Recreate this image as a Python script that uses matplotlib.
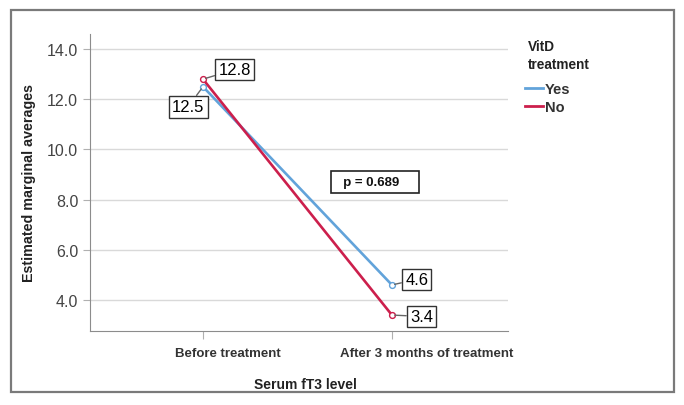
import matplotlib.pyplot as plt
from matplotlib.patches import Rectangle
from matplotlib.lines import Line2D
from matplotlib.transforms import ScaledTranslation

plt.rcParams['font.family'] = ['Liberation Sans', 'DejaVu Sans']

# Дані з графіка
categories = ['Before treatment', 'After 3 months of treatment']
yes_vals = [12.5, 4.6]
no_vals = [12.8, 3.4]
y_ticks = [4.0, 6.0, 8.0, 10.0, 12.0, 14.0]
p_text = 'p = 0.689'

blue = '#62a3da'
red = '#cc1f4c'

fig = plt.figure(figsize=(6.84, 4.06), dpi=100)
# рамка навколо всього рисунка
fig.patches.append(Rectangle((0.016, 0.032), 0.969, 0.941, transform=fig.transFigure,
                             fill=False, edgecolor='#7a7a7a', linewidth=1.6))

ax = fig.add_axes([0.1316, 0.1823, 0.611, 0.7315])
x = list(range(len(categories)))
ax.plot(x, yes_vals, color=blue, linewidth=1.9, marker='o', markersize=4.2,
        markerfacecolor='white', markeredgecolor=blue, zorder=3)
ax.plot(x, no_vals, color=red, linewidth=1.9, marker='o', markersize=4.2,
        markerfacecolor='white', markeredgecolor=red, zorder=4)

ax.set_xlim(-0.598, 1.614)
ax.set_ylim(2.765, 14.6)
ax.set_yticks(y_ticks)
ax.set_yticklabels([f'{v:.1f}' for v in y_ticks], fontsize=11.5, color='#444444')
ax.set_xticks(x)
ax.set_xticklabels(categories, fontsize=9.5, fontweight='bold', color='#333333')
ax.tick_params(axis='y', length=5, color='#b0b0b0', pad=3.5)
ax.tick_params(axis='x', length=5.8, color='#b0b0b0', pad=6)
# підписи категорій зсунуті праворуч, як на оригіналі
for lbl, dx in zip(ax.get_xticklabels(), [25, 35]):
    lbl.set_transform(lbl.get_transform() + ScaledTranslation(dx / 100, 0, fig.dpi_scale_trans))
ax.grid(axis='y', color='#d9d9d9', linewidth=1)
ax.set_axisbelow(True)
for s in ['top', 'right']:
    ax.spines[s].set_visible(False)
for s in ['left', 'bottom']:
    ax.spines[s].set_color('#8c8c8c')

ax.set_ylabel('Estimated marginal averages', fontsize=10.3, fontweight='bold',
              color='#222222', labelpad=8)
ax.set_xlabel('Serum fT3 level', fontsize=10, fontweight='bold', color='#222222')
ax.xaxis.set_label_coords(0.515, -0.155)

bbox = dict(boxstyle='square,pad=0.2', facecolor='white', edgecolor='#333333', linewidth=1)
arrow = dict(arrowstyle='-', color='#666666', linewidth=1, shrinkA=0, shrinkB=2)
ax.annotate(f'{no_vals[0]}', (x[0], no_vals[0]), xytext=(11, 1.5), textcoords='offset points',
            fontsize=12, bbox=bbox, arrowprops=arrow, va='bottom', ha='left', zorder=5)
ax.annotate(f'{yes_vals[0]}', (x[0], yes_vals[0]), xytext=(1, -9), textcoords='offset points',
            fontsize=12, bbox=bbox, arrowprops=arrow, va='top', ha='right', zorder=5)
ax.annotate(f'{yes_vals[1]}', (x[1], yes_vals[1]), xytext=(9.5, 4), textcoords='offset points',
            fontsize=12, bbox=bbox, arrowprops=arrow, va='center', ha='left', zorder=5)
ax.annotate(f'{no_vals[1]}', (x[1], no_vals[1]), xytext=(13, -1), textcoords='offset points',
            fontsize=12, bbox=bbox, arrowprops=arrow, va='center', ha='left', zorder=5)

ax.text(0.705, 8.7, '  ' + p_text + '    ', fontsize=9.5, fontweight='bold', va='center', ha='left',
        color='#111111',
        bbox=dict(boxstyle='square,pad=0.4', facecolor='white', edgecolor='#222222', linewidth=1.2))

fig.text(0.772, 0.862, 'VitD\ntreatment', fontsize=9.8, fontweight='bold', va='center', ha='left',
         color='#222222', linespacing=1.35)
handles = [Line2D([], [], color=blue, linewidth=2), Line2D([], [], color=red, linewidth=2)]
leg = ax.legend(handles, ['Yes', 'No'], loc='upper left', bbox_to_anchor=(1.04, 0.838),
                frameon=False, fontsize=10.5, handlelength=1.25, handletextpad=0.15,
                labelspacing=0.3, borderaxespad=0, borderpad=0)
for t in leg.get_texts():
    t.set_fontweight('bold')
    t.set_color('#333333')

fig.savefig('out.png', dpi=100)
